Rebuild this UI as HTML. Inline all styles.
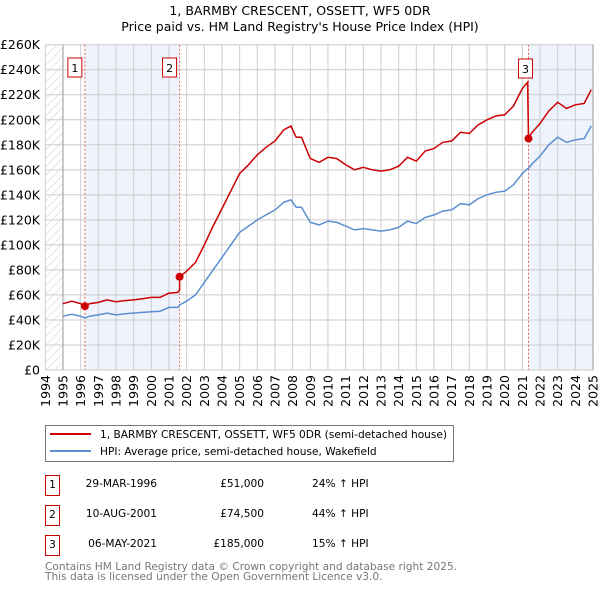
<!DOCTYPE html>
<html><head><meta charset="utf-8"><style>
body{margin:0;background:#fff}
svg{display:block;font-family:"DejaVu Sans","Liberation Sans",sans-serif}
</style></head><body>
<svg width="600" height="590" viewBox="0 0 600 590" xmlns="http://www.w3.org/2000/svg">
<defs><pattern id="hatch" width="6" height="6" patternUnits="userSpaceOnUse" patternTransform="rotate(45)"><line x1="0" y1="0" x2="0" y2="6" stroke="#ccc" stroke-width="1"/></pattern></defs>
<text x="300" y="15" text-anchor="middle" font-size="12.5">1, BARMBY CRESCENT, OSSETT, WF5 0DR</text>
<text x="300" y="31" text-anchor="middle" font-size="12.5">Price paid vs. HM Land Registry's House Price Index (HPI)</text>
<g id="plot"></g>
<g>
<rect x="45.5" y="425.5" width="408" height="36" fill="#fff" stroke="#777"/>
<line x1="50" y1="434" x2="91" y2="434" stroke="#cc0000" stroke-width="2"/>
<text x="100" y="438" font-size="10.6">1, BARMBY CRESCENT, OSSETT, WF5 0DR (semi-detached house)</text>
<line x1="50" y1="451" x2="91" y2="451" stroke="#5b8fd0" stroke-width="2"/>
<text x="100" y="455" font-size="10.6">HPI: Average price, semi-detached house, Wakefield</text>
</g>
<g font-size="10.6">
<rect x="45.5" y="475.5" width="14" height="20" fill="#fff" stroke="#cc0000"/><text x="52.5" y="488" text-anchor="middle">1</text>
<text x="157" y="487" text-anchor="end">29-MAR-1996</text><text x="264" y="487" text-anchor="end">£51,000</text><text x="312" y="487">24% ↑ HPI</text>
<rect x="45.5" y="505.5" width="14" height="20" fill="#fff" stroke="#cc0000"/><text x="52.5" y="518" text-anchor="middle">2</text>
<text x="157" y="517" text-anchor="end">10-AUG-2001</text><text x="264" y="517" text-anchor="end">£74,500</text><text x="312" y="517">44% ↑ HPI</text>
<rect x="45.5" y="535.5" width="14" height="20" fill="#fff" stroke="#cc0000"/><text x="52.5" y="548" text-anchor="middle">3</text>
<text x="157" y="547" text-anchor="end">06-MAY-2021</text><text x="264" y="547" text-anchor="end">£185,000</text><text x="312" y="547">15% ↑ HPI</text>
</g>
<text x="45" y="570" font-size="10.6" fill="#777">Contains HM Land Registry data © Crown copyright and database right 2025.</text>
<text x="45" y="580" font-size="10.6" fill="#777">This data is licensed under the Open Government Licence v3.0.</text>
</svg>
<script>
const dates=[1995,1995.5,1996,1996.24,1996.24,1996.5,1997,1997.5,1998,1998.5,1999,1999.5,2000,2000.5,2001,2001.5,2001.6,2001.6,2002,2002.5,2003,2003.5,2004,2004.5,2005,2005.5,2006,2006.5,2007,2007.5,2007.9,2008.2,2008.5,2009,2009.5,2010,2010.5,2011,2011.5,2012,2012.5,2013,2013.5,2014,2014.5,2015,2015.5,2016,2016.5,2017,2017.5,2018,2018.5,2019,2019.5,2020,2020.5,2021,2021.3,2021.35,2021.5,2022,2022.5,2023,2023.5,2024,2024.5,2024.9];
const hpiValues=[43,44.5,43,41.5,41.5,43,44,45.5,44,45,45.5,46,46.5,47,50,50,52,52,55,60,70,80,90,100,110,115,120,124,128,134,136,130,130,118,116,119,118,115,112,113,112,111,112,114,119,117,122,124,127,128,133,132,137,140,142,143,148,157,161,161,164,171,180,186,182,184,185,195];
const priceValues=[53,55,53,51,51,53,54,56,54.5,55.5,56,57,58,58,61.5,62,64,74.5,79,86,100,115,129,143,157,164,172,178,183,192,195,186,186,169,166,170,169,164,160,162,160,159,160,163,170,167,175,177,182,183,190,189,196,200,203,204,211,225,230,185,189,197,207,214,209,212,213,224];
const yTicks=[0,20,40,60,80,100,120,140,160,180,200,220,240,260];
const yearTicks=[1994,1995,1996,1997,1998,1999,2000,2001,2002,2003,2004,2005,2006,2007,2008,2009,2010,2011,2012,2013,2014,2015,2016,2017,2018,2019,2020,2021,2022,2023,2024,2025];
const saleDates=[1996.24,2001.6,2021.35];
const salePrices=[51,74.5,185];
const saleLabels=["1","2","3"];
const X0=45.3,X1=593,Y0=370,Y1=44.7;
const xs=t=>X0+(t-1994)/(2025-1994)*(X1-X0);
const ys=v=>Y0-v/260*(Y0-Y1);
const NS="http://www.w3.org/2000/svg";
const g=document.getElementById('plot');
function mk(tag,a,parent){const e=document.createElementNS(NS,tag);for(const k in a)e.setAttribute(k,a[k]);(parent||g).appendChild(e);return e;}
let e;
e=mk('rect',{x:X0,y:Y1,width:xs(1995)-X0,height:Y0-Y1,fill:'url(#hatch)'});


e=mk('rect',{x:xs(saleDates[0]),y:Y1,width:xs(saleDates[1])-xs(saleDates[0]),height:Y0-Y1,fill:'#eef3fc'});


e=mk('rect',{x:xs(saleDates[2]),y:Y1,width:X1-xs(saleDates[2]),height:Y0-Y1,fill:'#eef3fc'});


yTicks.forEach(v=>{
 e=mk('line',{x1:X0,x2:X1,y1:ys(v),y2:ys(v),stroke:'#ccc','stroke-width':1});
 
 
 e=mk('text',{x:40,y:ys(v)+4.5,'text-anchor':'end','font-size':12.5});
 e.textContent=v===0?'£0':'£'+v+'K';
 
 
});
yearTicks.forEach(t=>{
 e=mk('line',{x1:xs(t),x2:xs(t),y1:Y1,y2:Y0,stroke:'#ccc','stroke-width':1});
 
 
 e=mk('text',{x:0,y:0,'text-anchor':'end','font-size':12.5,transform:'translate('+(xs(t)+4.5)+','+(Y0+5)+') rotate(-90)'});
 e.textContent=t;
 
 
});
e=mk('line',{x1:xs(1995),x2:xs(1995),y1:Y1,y2:Y0,stroke:'#999'});


e=mk('line',{x1:X1,x2:X1,y1:Y1,y2:Y0,stroke:'#999'});


saleDates.forEach((d,i)=>{
 e=mk('line',{x1:xs(d),x2:xs(d),y1:Y1,y2:Y0,stroke:'#e06666','stroke-dasharray':'2,2'});
 
 
});
let p='';dates.forEach((d,i)=>{p+=(i?'L':'M')+xs(d).toFixed(1)+','+ys(hpiValues[i]).toFixed(1);});
e=mk('path',{d:p,fill:'none',stroke:'#5b8fd0','stroke-width':1.5});


p='';dates.forEach((d,i)=>{p+=(i?'L':'M')+xs(d).toFixed(1)+','+ys(priceValues[i]).toFixed(1);});
e=mk('path',{d:p,fill:'none',stroke:'#cc0000','stroke-width':1.5});


saleDates.forEach((d,i)=>{
 e=mk('circle',{cx:xs(d),cy:ys(salePrices[i]),r:4,fill:'#cc0000'});
 
 
 const bx=xs(d)-(i<2?17:10), by=i<2?58:59;
 e=mk('rect',{x:bx,y:by,width:14,height:19,fill:'#fff',stroke:'#cc0000'});
 
 
 e=mk('text',{x:bx+7,y:by+14,'text-anchor':'middle','font-size':11});
 e.textContent=saleLabels[i];
 
 
});
</script>
</body></html>
